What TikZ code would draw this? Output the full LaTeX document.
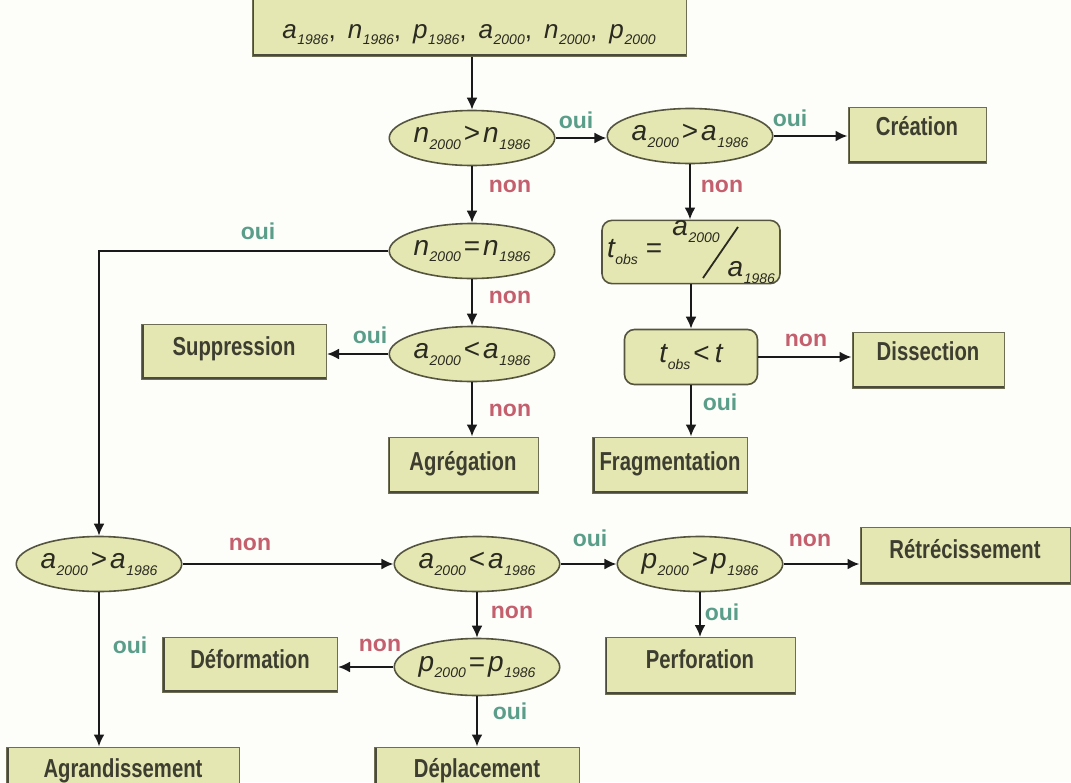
\documentclass[tikz,border=0pt]{standalone}
\usepackage{fontspec}
\setmainfont{Liberation Sans}
\newfontfamily\condfont{Liberation Sans}[FakeStretch=0.78]
\usetikzlibrary{shapes.geometric,arrows.meta}
\definecolor{bg}{HTML}{FDFDFA}
\definecolor{boxfill}{HTML}{E4E7B2}
\definecolor{boxline}{HTML}{6E6E55}
\definecolor{boxline2}{HTML}{4B4B3C}
\definecolor{ellline}{HTML}{55553F}
\definecolor{txt}{HTML}{3D3D30}
\definecolor{txtm}{HTML}{2A2A20}
\definecolor{ouic}{HTML}{5A9E8A}
\definecolor{nonc}{HTML}{C4606E}
\definecolor{arrowc}{HTML}{1A1A1A}
\newcommand\vs[2]{{\itshape #1}\kern0.3pt\raisebox{-0.45ex}{\fontsize{7}{7}\selectfont\itshape #2}}
\newcommand\op[1]{\kern1.5pt#1\kern1.5pt}
\tikzset{
  box/.style={rectangle, draw=boxline, line width=0.5pt, fill=boxfill, text=txt,
    font=\condfont\bfseries\fontsize{13}{14}\selectfont, inner sep=0pt,
    text height=10pt, text depth=8pt,
    path picture={\draw[boxline2, line width=2.4pt]
      (path picture bounding box.north west) -- (path picture bounding box.south west)
      -- (path picture bounding box.south east);}},
  ell/.style={ellipse, draw=ellline, line width=0.8pt, fill=boxfill, text=txtm,
    inner sep=0pt, minimum width=69pt, minimum height=27.5pt,
    font=\fontsize{14}{14}\selectfont},
  rbox/.style={rectangle, rounded corners=5pt, draw=ellline, line width=0.8pt,
    fill=boxfill, text=txtm, inner sep=0pt, font=\fontsize{14}{14}\selectfont},
  arr/.style={-{Latex[length=6pt,width=5.5pt]}, line width=1.1pt, draw=arrowc},
  oui/.style={text=ouic, font=\bfseries\fontsize{11.5}{12}\selectfont},
  non/.style={text=nonc, font=\bfseries\fontsize{11.5}{12}\selectfont}
}
\begin{document}
\begin{tikzpicture}[x=0.5pt,y=-0.5pt]
\useasboundingbox[fill=bg] (0,0) rectangle (1071,782);
% top box
\node[box, minimum width=217pt, minimum height=34pt, text height=16pt, text depth=0pt,
  font=\fontsize{13}{13}\selectfont, text=txtm] (top) at (469,22)
  {\vs{a}{1986},\hspace{6pt}\vs{n}{1986},\hspace{6pt}\vs{p}{1986},\hspace{6pt}\vs{a}{2000},\hspace{6pt}\vs{n}{2000},\hspace{6pt}\vs{p}{2000}};
% decisions
\node[ell] (e1) at (472,138) {\vs{n}{2000}\op{>}\vs{n}{1986}};
\node[ell] (e2) at (690,136) {\vs{a}{2000}\op{>}\vs{a}{1986}};
\node[box, minimum width=69pt, minimum height=28pt, text height=10pt, text depth=10pt] (creation) at (917,135) {Création};
\node[ell] (e3) at (472,251) {\vs{n}{2000}\op{=}\vs{n}{1986}};
\node[rbox, minimum width=89pt, minimum height=30pt] (tobs) at (691,252)
  {\vs{t}{obs}\hspace{4pt}=\hspace{5pt}\raisebox{1.5ex}{\vs{a}{2000}}\hspace{4pt}\raisebox{-1.3ex}{\vs{a}{1986}}};
\node[ell] (e4) at (472,354) {\vs{a}{2000}\op{<}\vs{a}{1986}};
\node[box, minimum width=92.5pt, minimum height=27.5pt, text height=10pt, text depth=7pt] (supp) at (234,352) {Suppression};
\node[rbox, minimum width=66.5pt, minimum height=27.5pt] (tlt) at (691,357) {\vs{t}{obs}\op{<}\kern1pt{\itshape t}};
\node[box, minimum width=76pt, minimum height=28pt, text height=10pt, text depth=10pt] (diss) at (928,360) {Dissection};
\node[box, minimum width=75pt, minimum height=28pt, text height=10pt, text depth=5pt] (agreg) at (463,465) {Agrégation};
\node[box, minimum width=77.5pt, minimum height=28pt, text height=10pt, text depth=5pt] (frag) at (670,465) {Fragmentation};
\node[ell, minimum width=66pt] (e5) at (99,564) {\vs{a}{2000}\op{>}\vs{a}{1986}};
\node[ell] (e6) at (477,564) {\vs{a}{2000}\op{<}\vs{a}{1986}};
\node[ell] (e7) at (700,564) {\vs{p}{2000}\op{>}\vs{p}{1986}};
\node[box, minimum width=105pt, minimum height=28.5pt, text height=10pt, text depth=8pt] (ret) at (965,556) {Rétrécissement};
\node[ell, minimum height=28.5pt] (e8) at (477,667) {\vs{p}{2000}\op{=}\vs{p}{1986}};
\node[box, minimum width=87.5pt, minimum height=27.5pt, text height=10pt, text depth=7pt] (def) at (250,665) {Déformation};
\node[box, minimum width=95pt, minimum height=28.5pt, text height=10pt, text depth=8pt] (perf) at (700,666) {Perforation};
\node[box, minimum width=116.5pt, minimum height=28pt, text height=10pt, text depth=8pt] (agr) at (123,775) {Agrandissement};
\node[box, minimum width=102.5pt, minimum height=28pt, text height=10pt, text depth=8pt] (depl) at (477,775) {Déplacement};
% slash in t_obs
\draw[txtm, line width=0.9pt] (738,227) -- (703,278);
% connectors
\draw[arr] (top.south -| e1.north) -- (e1.north);
\draw[arr] (e1.east) -- (e1.east -| e2.west);
\draw[arr] (e2.east) -- (e2.east -| creation.west);
\draw[arr] (e1.south) -- (e3.north);
\draw[arr] (e2.south) -- (e2.south |- tobs.north);
\draw[arr] (e3.south) -- (e4.north);
\draw[arr] (tobs.south) -- (tlt.north);
\draw[arr] (e4.west) -- (e4.west -| supp.east);
\draw[arr] (e4.south) -- (e4.south |- agreg.north);
\draw[arr] (tlt.east) -- (tlt.east -| diss.west);
\draw[arr] (tlt.south) -- (tlt.south |- frag.north);
\draw[arr] (e3.west) -| (e5.north);
\draw[arr] (e5.east) -- (e6.west);
\draw[arr] (e6.east) -- (e7.west);
\draw[arr] (e7.east) -- (e7.east -| ret.west);
\draw[arr] (e6.south) -- (e8.north);
\draw[arr] (e7.south) -- (e7.south |- perf.north);
\draw[arr] (e8.west) -- (e8.west -| def.east);
\draw[arr] (e8.south) -- (e8.south |- depl.north);
\draw[arr] (e5.south) -- (e5.south |- agr.north);
% labels
\node[oui] (l1) at (576,120) {oui};
\node[oui] (l2) at (790,118) {oui};
\node[non] (l3) at (510,186) {non};
\node[non] (l4) at (722,186) {non};
\node[oui] (l5) at (258,231) {oui};
\node[non] (l6) at (510,297) {non};
\node[oui] (l7) at (370,335) {oui};
\node[non] (l8) at (510,410) {non};
\node[non] (l9) at (806,340) {non};
\node[oui] (l10) at (720,402) {oui};
\node[non] (l11) at (250,544) {non};
\node[oui] (l12) at (590,538) {oui};
\node[non] (l13) at (810,540) {non};
\node[non] (l14) at (512,612) {non};
\node[oui] (l15) at (722,612) {oui};
\node[non] (l16) at (380,645) {non};
\node[oui] (l17) at (510,711) {oui};
\node[oui] (l18) at (130,645) {oui};
\end{tikzpicture}
\end{document}
